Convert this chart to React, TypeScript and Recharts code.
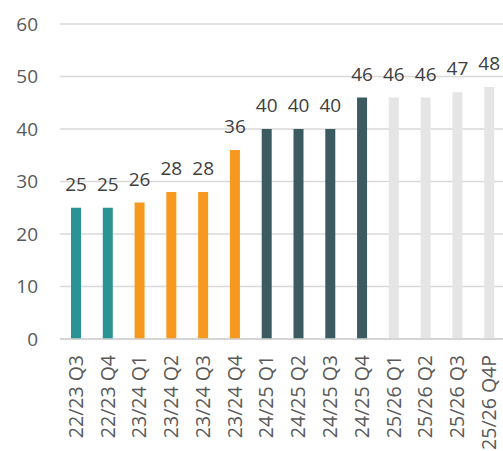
import { BarChart, Bar, XAxis, YAxis, CartesianGrid, LabelList, Cell } from 'recharts';

const quarters = [
  '22/23 Q3', '22/23 Q4', '23/24 Q1', '23/24 Q2', '23/24 Q3', '23/24 Q4', '24/25 Q1',
  '24/25 Q2', '24/25 Q3', '24/25 Q4', '25/26 Q1', '25/26 Q2', '25/26 Q3', '25/26 Q4P',
];
const values = [25, 25, 26, 28, 28, 36, 40, 40, 40, 46, 46, 46, 47, 48];
const barColors = [
  '#2A9395', '#2A9395', '#F7991F', '#F7991F', '#F7991F', '#F7991F', '#3B5B60',
  '#3B5B60', '#3B5B60', '#3B5B60', '#E5E5E5', '#E5E5E5', '#E5E5E5', '#E5E5E5',
];
const yTicks = [0, 10, 20, 30, 40, 50, 60];

const data = quarters.map((q, i) => ({ q, v: values[i] }));

const FONT = '"Open Sans", sans-serif';

const XTick = ({ x, payload }: any) => (
  <text
    transform={`translate(${x},355) rotate(-90)`}
    textAnchor="end"
    dy="0.35em"
    fill="#595959"
    fontSize={19.5}
    fontFamily={FONT}
  >
    {payload.value}
  </text>
);

const YTick = ({ y, payload }: any) => (
  <text x={38} y={y} dy="0.35em" textAnchor="end" fill="#595959" fontSize={19} fontFamily={FONT}>
    {payload.value}
  </text>
);

export default function App() {
  return (
    <div style={{ position: 'absolute', left: 0, top: 0 }}>
      <BarChart width={505} height={451} data={data} margin={{ top: 24, right: 0, bottom: 0, left: 0 }}>
        <CartesianGrid vertical={false} stroke="#D9D9D9" strokeWidth={1.3} />
        <XAxis
          dataKey="q"
          height={112}
          interval={0}
          tickLine={false}
          axisLine={{ stroke: '#D0D0D0', strokeWidth: 1.5 }}
          tick={<XTick />}
        />
        <YAxis
          width={60}
          domain={[0, 60]}
          ticks={yTicks}
          axisLine={false}
          tickLine={false}
          tick={<YTick />}
        />
        <Bar dataKey="v" barSize={10} isAnimationActive={false}>
          {data.map((d, i) => (
            <Cell key={d.q} fill={barColors[i]} />
          ))}
          <LabelList
            dataKey="v"
            position="top"
            offset={17}
            fill="#404040"
            fontSize={19}
            fontFamily={FONT}
          />
        </Bar>
      </BarChart>
    </div>
  );
}
